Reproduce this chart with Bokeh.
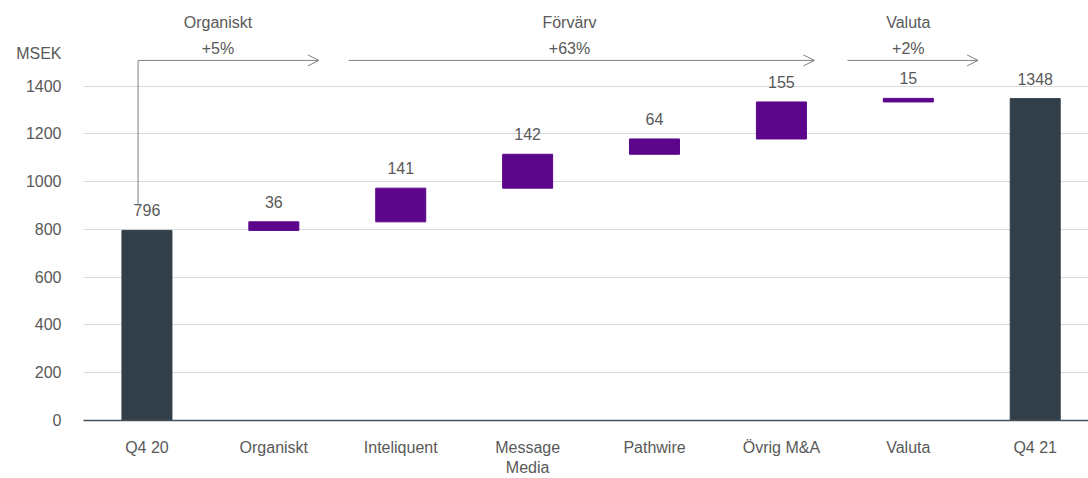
from bokeh.plotting import figure
from bokeh.models import ColumnDataSource, Range1d, FixedTicker, Arrow, OpenHead
from bokeh.core.properties import value
from bokeh.embed import file_html
from bokeh.resources import INLINE

categories = ["Q4 20", "Organiskt", "Inteliquent", "Message\nMedia", "Pathwire",
              "Övrig M&A", "Valuta", "Q4 21"]
values = [796, 36, 141, 142, 64, 155, 15, 1348]
is_total = [True, False, False, False, False, False, False, True]
y_ticks = [0, 200, 400, 600, 800, 1000, 1200, 1400]
unit_label = "MSEK"

group_titles = ["Organiskt", "Förvärv", "Valuta"]
group_pcts = ["+5%", "+63%", "+2%"]

DARK = "#333f48"
PURPLE = "#5c068c"
TXT = "#595959"
ARROW = "#808080"
FONT = "Liberation Sans"
FS = "16px"

# waterfall geometry from values
xs, tops, bottoms, colors = [], [], [], []
run = 0
for i, (v, t) in enumerate(zip(values, is_total)):
    xs.append(i)
    if t:
        bottoms.append(0)
        tops.append(v)
        run = v
        colors.append(DARK)
    else:
        bottoms.append(run)
        tops.append(run + v)
        run += v
        colors.append(PURPLE)

px_per_unit = 334.3 / 1400.0
lab_off = 20 / px_per_unit

src = ColumnDataSource(dict(x=xs, top=tops, bottom=bottoms, color=colors,
                            lab=[str(v) for v in values],
                            ly=[t + lab_off for t in tops]))

p = figure(width=1088, height=478, output_backend="svg", toolbar_location=None,
           x_range=Range1d(-0.5, 7.42), y_range=Range1d(0, 420 / px_per_unit),
           min_border_left=83, min_border_right=0, min_border_top=0,
           min_border_bottom=58)
p.outline_line_color = None
p.background_fill_color = "white"

p.vbar(x="x", top="top", bottom="bottom", width=0.394, color="color", source=src)
p.text(x="x", y="ly", text="lab", source=src, text_align="center",
       text_baseline="middle", text_font=value(FONT), text_font_size=FS,
       text_color=TXT)

# axes (the unit label rides on the y axis as an extra tick label)
unit_y = 1537
p.yaxis.ticker = FixedTicker(ticks=y_ticks + [unit_y])
p.yaxis.major_label_overrides = {unit_y: unit_label}
p.yaxis.axis_line_color = None
p.yaxis.major_tick_line_color = None
p.yaxis.minor_tick_line_color = None
p.yaxis.major_label_text_font = FONT
p.yaxis.major_label_text_font_size = FS
p.yaxis.major_label_text_color = TXT
p.yaxis.major_label_standoff = 16

p.xaxis.ticker = FixedTicker(ticks=list(range(len(categories))))
p.xaxis.major_label_overrides = {i: c for i, c in enumerate(categories)}
p.xaxis.axis_line_color = "#44505a"
p.xaxis.axis_line_width = 1.5
p.xaxis.major_tick_line_color = None
p.xaxis.minor_tick_line_color = None
p.xaxis.major_label_text_font = FONT
p.xaxis.major_label_text_font_size = FS
p.xaxis.major_label_text_color = TXT
p.xaxis.major_label_standoff = 12

p.xgrid.grid_line_color = None
p.ygrid.ticker = FixedTicker(ticks=y_ticks)
p.ygrid.grid_line_color = "#d9d9d9"
p.ygrid.grid_line_width = 1

# bracket arrows
arrow_y = 1508
p.segment(x0=[-0.07], y0=[900], x1=[-0.07], y1=[arrow_y], line_color=ARROW,
          line_width=1)
arrows = [(-0.07, 1.355), (1.59, 5.26), (5.52, 6.55)]
text_x = [0.56, 3.33, 6.0]
for (a0, a1), tx, gt, gp in zip(arrows, text_x, group_titles, group_pcts):
    p.add_layout(Arrow(x_start=a0, y_start=arrow_y, x_end=a1, y_end=arrow_y,
                       line_color=ARROW, line_width=1,
                       end=OpenHead(size=11, line_color=ARROW, line_width=1)))
    p.text(x=[tx], y=[1667], text=[gt], text_align="center",
           text_baseline="middle", text_font=value(FONT),
           text_font_size=FS, text_color=TXT)
    p.text(x=[tx], y=[1558], text=[gp], text_align="center",
           text_baseline="middle", text_font=value(FONT),
           text_font_size=FS, text_color=TXT)

open("out.html", "w").write(file_html(p, INLINE))
